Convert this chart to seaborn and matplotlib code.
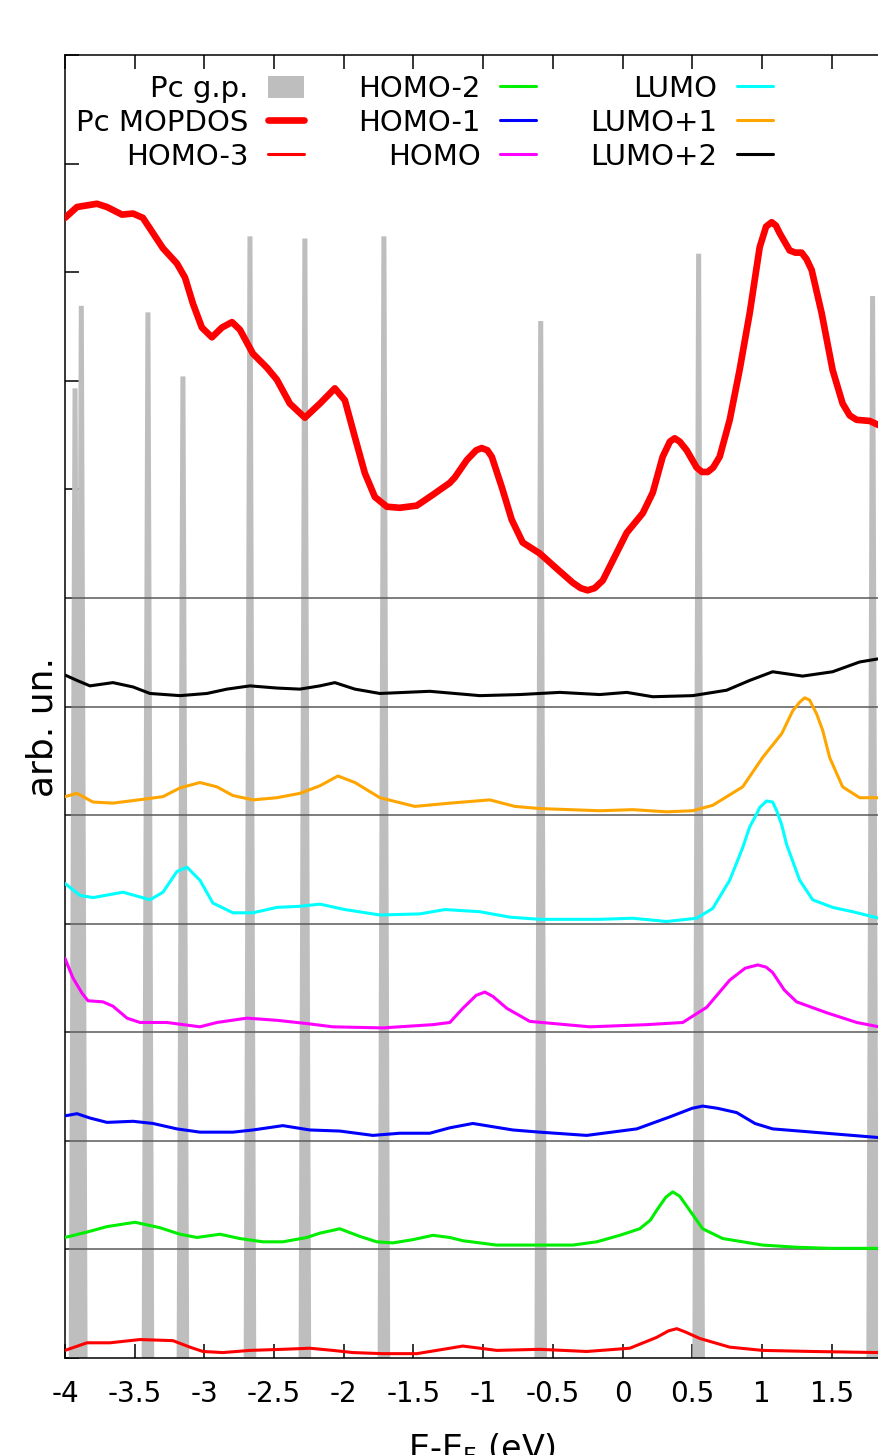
import numpy as np
import matplotlib
matplotlib.use("Agg")
import matplotlib.pyplot as plt
from matplotlib.patches import Patch
from matplotlib.lines import Line2D
import seaborn as sns

# Gas-phase Pc levels: energy relative to E_F (eV) and peak height (arb. un.)
gp_energy = [-3.928, -3.883, -3.405, -3.154, -2.673, -2.279, -1.712, -0.587, 0.546, 1.794]
gp_height = [8.93, 9.69, 9.63, 9.04, 10.33, 10.31, 10.33, 9.55, 10.17, 9.78]

# Projected DOS curves as (E - E_F, value) pairs
pc_mopdos = [(-4.0, 3.50), (-3.914, 3.60), (-3.771, 3.63), (-3.699, 3.60), (-3.591, 3.53),
             (-3.512, 3.54), (-3.441, 3.50), (-3.369, 3.36), (-3.297, 3.22), (-3.197, 3.08),
             (-3.139, 2.95), (-3.082, 2.71), (-3.018, 2.49), (-2.946, 2.40), (-2.874, 2.49),
             (-2.802, 2.54), (-2.745, 2.47), (-2.652, 2.25), (-2.551, 2.12), (-2.480, 2.01),
             (-2.387, 1.79), (-2.279, 1.66), (-2.171, 1.79), (-2.064, 1.93), (-1.992, 1.82),
             (-1.920, 1.48), (-1.849, 1.15), (-1.777, 0.93), (-1.691, 0.84), (-1.598, 0.83),
             (-1.476, 0.85), (-1.361, 0.95), (-1.239, 1.06), (-1.203, 1.11), (-1.117, 1.27),
             (-1.050, 1.36), (-1.010, 1.38), (-0.970, 1.36), (-0.938, 1.30), (-0.866, 1.02),
             (-0.795, 0.72), (-0.716, 0.51), (-0.594, 0.41), (-0.472, 0.27), (-0.357, 0.14),
             (-0.300, 0.09), (-0.250, 0.07), (-0.200, 0.09), (-0.142, 0.16), (-0.056, 0.38),
             (0.030, 0.60), (0.145, 0.78), (0.217, 0.97), (0.288, 1.30), (0.340, 1.44),
             (0.374, 1.47), (0.410, 1.44), (0.460, 1.36), (0.532, 1.20), (0.570, 1.16),
             (0.611, 1.16), (0.650, 1.20), (0.697, 1.30), (0.769, 1.64), (0.840, 2.10),
             (0.912, 2.62), (0.984, 3.23), (1.030, 3.42), (1.070, 3.46), (1.100, 3.43),
             (1.127, 3.36), (1.199, 3.20), (1.240, 3.18), (1.285, 3.18), (1.320, 3.12),
             (1.357, 3.02), (1.429, 2.62), (1.507, 2.10), (1.579, 1.79), (1.630, 1.68),
             (1.680, 1.64), (1.773, 1.63), (1.840, 1.59)]

homo_m3 = [(-4.0, 0.07), (-3.842, 0.14), (-3.677, 0.14), (-3.462, 0.17), (-3.226, 0.16),
           (-3.104, 0.10), (-3.010, 0.06), (-2.867, 0.05), (-2.673, 0.07), (-2.437, 0.08),
           (-2.243, 0.09), (-2.078, 0.07), (-1.935, 0.05), (-1.720, 0.04), (-1.476, 0.04),
           (-1.239, 0.09), (-1.146, 0.11), (-0.902, 0.07), (-0.594, 0.08), (-0.257, 0.06),
           (0.052, 0.09), (0.245, 0.19), (0.330, 0.25), (0.389, 0.27), (0.450, 0.24),
           (0.554, 0.18), (0.769, 0.10), (1.005, 0.07), (1.364, 0.06), (1.840, 0.05)]

homo_m2 = [(-4.0, 0.11), (-3.842, 0.16), (-3.699, 0.21), (-3.498, 0.25), (-3.319, 0.20),
           (-3.175, 0.14), (-3.053, 0.11), (-2.888, 0.14), (-2.745, 0.10), (-2.580, 0.07),
           (-2.437, 0.07), (-2.265, 0.11), (-2.171, 0.15), (-2.028, 0.19), (-1.885, 0.12),
           (-1.763, 0.07), (-1.648, 0.06), (-1.504, 0.09), (-1.361, 0.13), (-1.239, 0.11),
           (-1.146, 0.08), (-0.902, 0.04), (-0.665, 0.04), (-0.357, 0.04), (-0.185, 0.07),
           (-0.020, 0.13), (0.123, 0.19), (0.200, 0.27), (0.245, 0.36), (0.310, 0.48),
           (0.360, 0.53), (0.410, 0.49), (0.460, 0.40), (0.575, 0.19), (0.719, 0.10),
           (1.005, 0.04), (1.249, 0.02), (1.486, 0.01), (1.840, 0.01)]

homo_m1 = [(-4.0, 0.23), (-3.914, 0.25), (-3.821, 0.21), (-3.699, 0.17), (-3.512, 0.18),
           (-3.369, 0.16), (-3.197, 0.11), (-3.032, 0.08), (-2.795, 0.08), (-2.652, 0.10),
           (-2.437, 0.14), (-2.243, 0.10), (-2.028, 0.09), (-1.791, 0.05), (-1.598, 0.07),
           (-1.383, 0.07), (-1.239, 0.12), (-1.074, 0.16), (-0.787, 0.10), (-0.594, 0.08),
           (-0.257, 0.05), (0.102, 0.11), (0.338, 0.22), (0.500, 0.30), (0.575, 0.32),
           (0.680, 0.30), (0.819, 0.26), (0.950, 0.16), (1.077, 0.11), (1.364, 0.08),
           (1.840, 0.03)]

homo = [(-4.0, 0.68), (-3.943, 0.50), (-3.878, 0.36), (-3.835, 0.29), (-3.728, 0.28),
        (-3.656, 0.24), (-3.555, 0.13), (-3.462, 0.09), (-3.269, 0.09), (-3.032, 0.05),
        (-2.910, 0.09), (-2.695, 0.13), (-2.480, 0.11), (-2.265, 0.08), (-2.078, 0.05),
        (-1.720, 0.04), (-1.361, 0.07), (-1.239, 0.09), (-1.146, 0.22), (-1.050, 0.34),
        (-0.988, 0.37), (-0.930, 0.33), (-0.830, 0.22), (-0.665, 0.10), (-0.235, 0.05),
        (0.174, 0.07), (0.432, 0.09), (0.604, 0.23), (0.769, 0.48), (0.880, 0.59),
        (0.970, 0.62), (1.030, 0.60), (1.077, 0.55), (1.160, 0.39), (1.249, 0.28),
        (1.464, 0.18), (1.680, 0.09), (1.840, 0.05)]

lumo = [(-4.0, 0.37), (-3.892, 0.26), (-3.799, 0.24), (-3.584, 0.29), (-3.390, 0.22),
        (-3.297, 0.29), (-3.197, 0.48), (-3.125, 0.52), (-3.032, 0.40), (-2.939, 0.19),
        (-2.795, 0.10), (-2.652, 0.10), (-2.480, 0.15), (-2.315, 0.16), (-2.171, 0.18),
        (-1.992, 0.13), (-1.741, 0.08), (-1.454, 0.09), (-1.275, 0.13), (-1.024, 0.11),
        (-0.809, 0.06), (-0.594, 0.04), (-0.163, 0.04), (0.073, 0.05), (0.317, 0.02),
        (0.532, 0.05), (0.647, 0.14), (0.769, 0.40), (0.862, 0.70), (0.912, 0.89),
        (0.962, 1.01), (0.984, 1.07), (1.034, 1.13), (1.077, 1.12), (1.106, 1.04),
        (1.142, 0.91), (1.177, 0.73), (1.271, 0.40), (1.364, 0.22), (1.507, 0.15),
        (1.651, 0.11), (1.840, 0.05)]

lumo_p1 = [(-4.0, 0.17), (-3.914, 0.20), (-3.799, 0.12), (-3.656, 0.11), (-3.412, 0.15),
           (-3.297, 0.17), (-3.175, 0.25), (-3.032, 0.30), (-2.910, 0.26), (-2.795, 0.18),
           (-2.652, 0.14), (-2.480, 0.16), (-2.315, 0.20), (-2.171, 0.27), (-2.042, 0.36),
           (-1.920, 0.30), (-1.741, 0.16), (-1.490, 0.08), (-1.239, 0.11), (-0.952, 0.14),
           (-0.773, 0.08), (-0.594, 0.06), (-0.163, 0.04), (0.073, 0.05), (0.317, 0.03),
           (0.503, 0.04), (0.647, 0.09), (0.862, 0.26), (1.005, 0.53), (1.142, 0.75),
           (1.221, 0.96), (1.271, 1.04), (1.307, 1.08), (1.342, 1.06), (1.393, 0.93),
           (1.436, 0.78), (1.486, 0.53), (1.579, 0.26), (1.701, 0.16), (1.840, 0.16)]

lumo_p2 = [(-4.0, 0.29), (-3.914, 0.24), (-3.821, 0.19), (-3.656, 0.22), (-3.512, 0.18),
           (-3.390, 0.12), (-3.175, 0.10), (-2.982, 0.12), (-2.838, 0.16), (-2.673, 0.19),
           (-2.480, 0.17), (-2.315, 0.16), (-2.171, 0.19), (-2.064, 0.22), (-1.920, 0.16),
           (-1.741, 0.12), (-1.383, 0.14), (-1.024, 0.10), (-0.737, 0.11), (-0.450, 0.13),
           (-0.163, 0.11), (0.030, 0.13), (0.217, 0.09), (0.503, 0.10), (0.747, 0.15),
           (0.912, 0.24), (1.077, 0.32), (1.292, 0.28), (1.507, 0.32), (1.701, 0.41),
           (1.840, 0.44)]

x_ticks = [-4, -3.5, -3, -2.5, -2, -1.5, -1, -0.5, 0, 0.5, 1, 1.5]
x_tick_labels = ["-4", "-3.5", "-3", "-2.5", "-2", "-1.5", "-1", "-0.5", "0", "0.5", "1", "1.5"]

sns.set_style("ticks")
plt.rcParams["font.family"] = ["DejaVu Sans"]
plt.rcParams["text.color"] = "black"
plt.rcParams["axes.labelcolor"] = "black"
plt.rcParams["xtick.color"] = "black"
plt.rcParams["ytick.color"] = "black"
plt.rcParams["lines.solid_joinstyle"] = "round"
plt.rcParams["lines.solid_capstyle"] = "round"

fig = plt.figure(figsize=(8.79, 14.55), dpi=100)
ax = fig.add_axes([65 / 879, 97 / 1455, 814 / 879, 1303 / 1455])

x_min, x_max = -4.0, 1.84
GRAY = "#bebebe"

# gas-phase levels: narrow tapered columns rising from zero
half_base, half_top = 0.045, 0.018
for e0, h in zip(gp_energy, gp_height):
    ax.fill([e0 - half_base, e0 - half_top, e0 + half_top, e0 + half_base],
            [0, h, h, 0], color=GRAY, lw=0, zorder=1)

# stacked curves: (data, baseline, colour, line width)
stack = [
    (homo_m3, 0, "#ff0000", 2.2),
    (homo_m2, 1, "#00ee00", 2.2),
    (homo_m1, 2, "#0000ff", 2.2),
    (homo, 3, "#ff00ff", 2.2),
    (lumo, 4, "#00ffff", 2.2),
    (lumo_p1, 5, "#ffa500", 2.2),
    (lumo_p2, 6, "#000000", 2.2),
    (pc_mopdos, 7, "#ff0000", 4.8),
]

for base in range(1, 8):
    ax.axhline(base, color="#5a5a5a", lw=1.1, zorder=2)

for data, base, color, lw in stack:
    xs = np.array([p[0] for p in data])
    ys = np.array([p[1] for p in data]) + base
    sns.lineplot(x=xs, y=ys, ax=ax, color=color, linewidth=lw, sort=False,
                 estimator=None, zorder=3)

ax.set_xlim(x_min, x_max)
ax.set_ylim(0, 12)
ax.set_xticks(x_ticks)
ax.set_xticklabels(x_tick_labels, fontsize=20)
ax.set_yticks(range(0, 13))
ax.set_yticklabels([])
ax.tick_params(axis="both", direction="in", length=10, width=1.1, color="black")
ax.tick_params(axis="x", top=True, pad=16)
ax.tick_params(axis="y", left=True, right=False)
for side in ("left", "top", "bottom"):
    ax.spines[side].set_linewidth(1.1)
    ax.spines[side].set_color("black")
ax.spines["right"].set_visible(False)

ax.set_ylabel("arb. un.", fontsize=26)
ax.yaxis.set_label_coords(-0.007, 0.484)
ax.set_xlabel(r"E-E$_\mathrm{F}$ (eV)", fontsize=24)
ax.xaxis.set_label_coords(0.512, -0.056)

handles = [
    Patch(facecolor=GRAY, edgecolor="none"),
    Line2D([], [], color="#ff0000", lw=4.8),
    Line2D([], [], color="#ff0000", lw=2.2),
    Line2D([], [], color="#00ee00", lw=2.2),
    Line2D([], [], color="#0000ff", lw=2.2),
    Line2D([], [], color="#ff00ff", lw=2.2),
    Line2D([], [], color="#00ffff", lw=2.2),
    Line2D([], [], color="#ffa500", lw=2.2),
    Line2D([], [], color="#000000", lw=2.2),
]
labels = ["Pc g.p.", "Pc MOPDOS", "HOMO-3", "HOMO-2", "HOMO-1", "HOMO",
          "LUMO", "LUMO+1", "LUMO+2"]
ax.legend(handles, labels, ncol=3, markerfirst=False, frameon=False, fontsize=21,
          handlelength=1.23, handleheight=0.82, handletextpad=0.68, columnspacing=1.85,
          labelspacing=0.2, borderpad=0, borderaxespad=0, loc="upper left",
          bbox_to_anchor=(76 / 879, 1 - 75 / 1455), bbox_transform=fig.transFigure)

fig.savefig("out.png", dpi=100)
